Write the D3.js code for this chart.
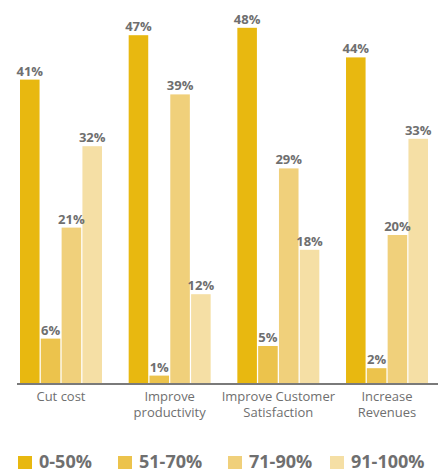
<!DOCTYPE html>
<html>
<head>
<meta charset="utf-8">
<script src="https://cdn.jsdelivr.net/npm/d3@7"></script>
<style>
  body { margin: 0; background: #fff; }
  text { font-family: "Open Sans", sans-serif; }
</style>
</head>
<body>
<div id="chart"></div>
<script>
// data
var categories = ['Cut cost', 'Improve productivity', 'Improve Customer Satisfaction', 'Increase Revenues'];
var categoryLines = [['Cut cost'], ['Improve', 'productivity'], ['Improve Customer', 'Satisfaction'], ['Increase', 'Revenues']];
var seriesNames = ['0-50%', '51-70%', '71-90%', '91-100%'];
var values050 = [41, 47, 48, 44];
var values5170 = [6, 1, 5, 2];
var values7190 = [21, 39, 29, 20];
var values91100 = [32, 12, 18, 33];
var seriesValues = [values050, values5170, values7190, values91100];

var colors = ['#e8b810', '#ecc34c', '#f0d07b', '#f5dfa5'];
var textColor = '#6f6f6f';

var svgWidth = 438;
var svgHeight = 469;
var baseline = 383;

var svg = d3.select('#chart').append('svg')
  .attr('width', svgWidth)
  .attr('height', svgHeight);

// scales
var x0 = d3.scaleBand()
  .domain(categories)
  .range([0, 448])
  .paddingInner(0.2456)
  .paddingOuter(0.184);

var x1 = d3.scaleBand()
  .domain(seriesNames)
  .range([0, x0.bandwidth()])
  .paddingInner(0.06);

var y = d3.scaleLinear()
  .domain([0, 50])
  .range([baseline, baseline - 370]);

// build rows
var rows = [];
categories.forEach(function (c, i) {
  seriesNames.forEach(function (s, j) {
    rows.push({ cat: c, series: s, idx: j, value: seriesValues[j][i] });
  });
});

var groups = svg.append('g');

groups.selectAll('rect')
  .data(rows)
  .enter()
  .append('rect')
  .attr('x', d => x0(d.cat) + x1(d.series))
  .attr('y', d => y(d.value))
  .attr('width', x1.bandwidth())
  .attr('height', d => baseline - y(d.value))
  .attr('fill', d => colors[d.idx]);

groups.selectAll('.valueLabel')
  .data(rows)
  .enter()
  .append('text')
  .classed('valueLabel', true)
  .attr('x', d => x0(d.cat) + x1(d.series) + x1.bandwidth() / 2)
  .attr('y', d => y(d.value) - 4)
  .attr('text-anchor', 'middle')
  .attr('font-size', '13px')
  .attr('font-weight', 'bold')
  .attr('fill', textColor)
  .text(d => d.value + '%');

// x axis line
svg.append('line')
  .attr('x1', 17)
  .attr('x2', svgWidth)
  .attr('y1', baseline + 1)
  .attr('y2', baseline + 1)
  .attr('stroke', '#7a7a7a')
  .attr('stroke-width', 2);

// category labels, one text per line
categories.forEach(function (c, i) {
  categoryLines[i].forEach(function (line, k) {
    svg.append('text')
      .attr('x', x0(c) + x0.bandwidth() / 2)
      .attr('y', baseline + 18 + k * 16)
      .attr('text-anchor', 'middle')
      .attr('font-size', '13px')
      .attr('fill', textColor)
      .text(line);
  });
});

// legend
var legendX = [18, 118, 228, 330];
var legend = svg.append('g');
seriesNames.forEach(function (s, i) {
  legend.append('rect')
    .attr('x', legendX[i])
    .attr('y', 456)
    .attr('width', 14)
    .attr('height', 14)
    .attr('fill', colors[i]);
  legend.append('text')
    .attr('x', legendX[i] + 21)
    .attr('y', 468)
    .attr('font-size', '18px')
    .attr('font-weight', 'bold')
    .attr('fill', textColor)
    .text(s);
});
</script>
</body>
</html>
